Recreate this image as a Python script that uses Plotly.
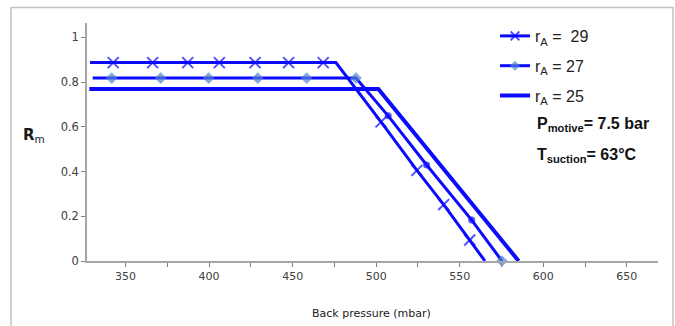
import plotly.graph_objects as go

# Back pressure (mbar) and entrainment ratio Rm for three area ratios
x_ra29 = [328.7, 342.6, 366.2, 387.2, 406.1, 427.5, 447.6, 468.3, 475.9, 502.9, 524.4, 540.4, 556.0, 565.1]
y_ra29 = [0.887, 0.887, 0.887, 0.887, 0.887, 0.887, 0.887, 0.887, 0.887, 0.622, 0.405, 0.252, 0.094, 0.0]
mk_ra29 = [False, True, True, True, True, True, True, True, False, True, True, True, True, False]

x_ra27 = [330.3, 341.7, 371.0, 399.7, 429.1, 458.4, 487.9, 507.2, 530.2, 557.2, 575.3]
y_ra27 = [0.818, 0.818, 0.818, 0.818, 0.818, 0.818, 0.818, 0.649, 0.429, 0.183, 0.0]
mk_ra27 = ["none", "diamond", "diamond", "diamond", "diamond", "diamond", "diamond",
           "dot", "dot", "dot", "diamond"]

x_ra25 = [328.3, 501.3, 585.3]
y_ra25 = [0.769, 0.769, 0.0]

x_ticks = [350, 400, 450, 500, 550, 600, 650]
y_ticks = [0, 0.2, 0.4, 0.6, 0.8, 1]

BLUE = "#0a0aff"
LIGHT = "#4f84d2"
FONT = "DejaVu Sans"
LEG_FONT = "Liberation Sans"

fig = go.Figure()

fig.add_trace(go.Scatter(
    x=x_ra29, y=y_ra29, mode="lines+markers", name="r<sub>A</sub> =  29",
    legendgroup="a29",
    line=dict(color=BLUE, width=3),
    marker=dict(symbol="x-thin", size=[11 if m else 0 for m in mk_ra29],
                color=BLUE, line=dict(color=BLUE, width=2)),
    cliponaxis=False,
))

sym27 = ["circle" if s == "dot" else "diamond" for s in mk_ra27]
size27 = [0 if s == "none" else (9 if s == "diamond" else 7) for s in mk_ra27]
col27 = [BLUE if s == "dot" else LIGHT for s in mk_ra27]
fig.add_trace(go.Scatter(
    x=x_ra27, y=y_ra27, mode="lines+markers", name="r<sub>A</sub> = 27",
    legendgroup="a27",
    line=dict(color=BLUE, width=3),
    marker=dict(symbol=sym27, size=size27, color=col27, line=dict(width=0)),
    cliponaxis=False,
))

fig.add_trace(go.Scatter(
    x=x_ra25, y=y_ra25, mode="lines", name="r<sub>A</sub> = 25",
    legendgroup="a25",
    line=dict(color=BLUE, width=4),
    cliponaxis=False,
))

# pixel geometry of the plot box
L, R, T, B = 87, 658, 23, 261
W, H = R - L, B - T


def px(x):
    return (x - L) / W


def py(y):
    return (B - y) / H


fig.update_layout(
    width=675, height=326,
    margin=dict(l=L, r=675 - R, t=T, b=326 - B),
    paper_bgcolor="white", plot_bgcolor="white",
    showlegend=True,
    legend=dict(
        x=px(495), y=py(19), xanchor="left", yanchor="top",
        bgcolor="rgba(0,0,0,0)",
        font=dict(family=LEG_FONT, size=16, color="#222222"),
        itemwidth=30, tracegroupgap=6,
    ),
    xaxis=dict(
        range=[326.9, 668.7], tickvals=x_ticks, ticktext=[str(v) for v in x_ticks],
        showgrid=False, zeroline=False,
        showline=True, linecolor="#a6a6a6", linewidth=1.5,
        ticks="outside", ticklen=4, tickcolor="#7f7f7f",
        minor=dict(ticks="outside", ticklen=4, tickcolor="#7f7f7f", dtick=25, tick0=350),
        tickfont=dict(family=FONT, size=11, color="#404040"),
    ),
    yaxis=dict(
        range=[0, 1.064], tickvals=y_ticks, ticktext=["0", "0.2", "0.4", "0.6", "0.8", "1"],
        showgrid=False, zeroline=False,
        showline=True, linecolor="#a6a6a6", linewidth=1.5,
        ticks="outside", ticklen=4, tickcolor="#7f7f7f",
        tickfont=dict(family=FONT, size=11.5, color="#404040"),
    ),
    shapes=[dict(
        type="rect", xref="paper", yref="paper",
        x0=px(11), x1=px(673), y0=py(340), y1=py(7.5),
        line=dict(color="#c4c4c4", width=1.5), fillcolor="rgba(0,0,0,0)", layer="below",
    )],
    annotations=[
        dict(text="<b>R</b><sub>m</sub>", xref="paper", yref="paper",
             x=px(21), y=py(135), xanchor="left", yanchor="middle", showarrow=False,
             font=dict(family=FONT, size=15, color="#1a1a1a")),
        dict(text="Back pressure (mbar)", xref="paper", yref="paper",
             x=px(371.5), y=py(313), xanchor="center", yanchor="middle", showarrow=False,
             font=dict(family=FONT, size=11, color="#1a1a1a")),
        dict(text="<b>P<sub>motive</sub>= 7.5 bar</b>", xref="paper", yref="paper",
             x=px(535), y=py(124), xanchor="left", yanchor="middle", showarrow=False,
             font=dict(family=LEG_FONT, size=16, color="#111111")),
        dict(text="<b>T<sub>suction</sub>= 63°C</b>", xref="paper", yref="paper",
             x=px(535), y=py(155), xanchor="left", yanchor="middle", showarrow=False,
             font=dict(family=LEG_FONT, size=16, color="#111111")),
    ],
)

fig.write_html("out.html")
